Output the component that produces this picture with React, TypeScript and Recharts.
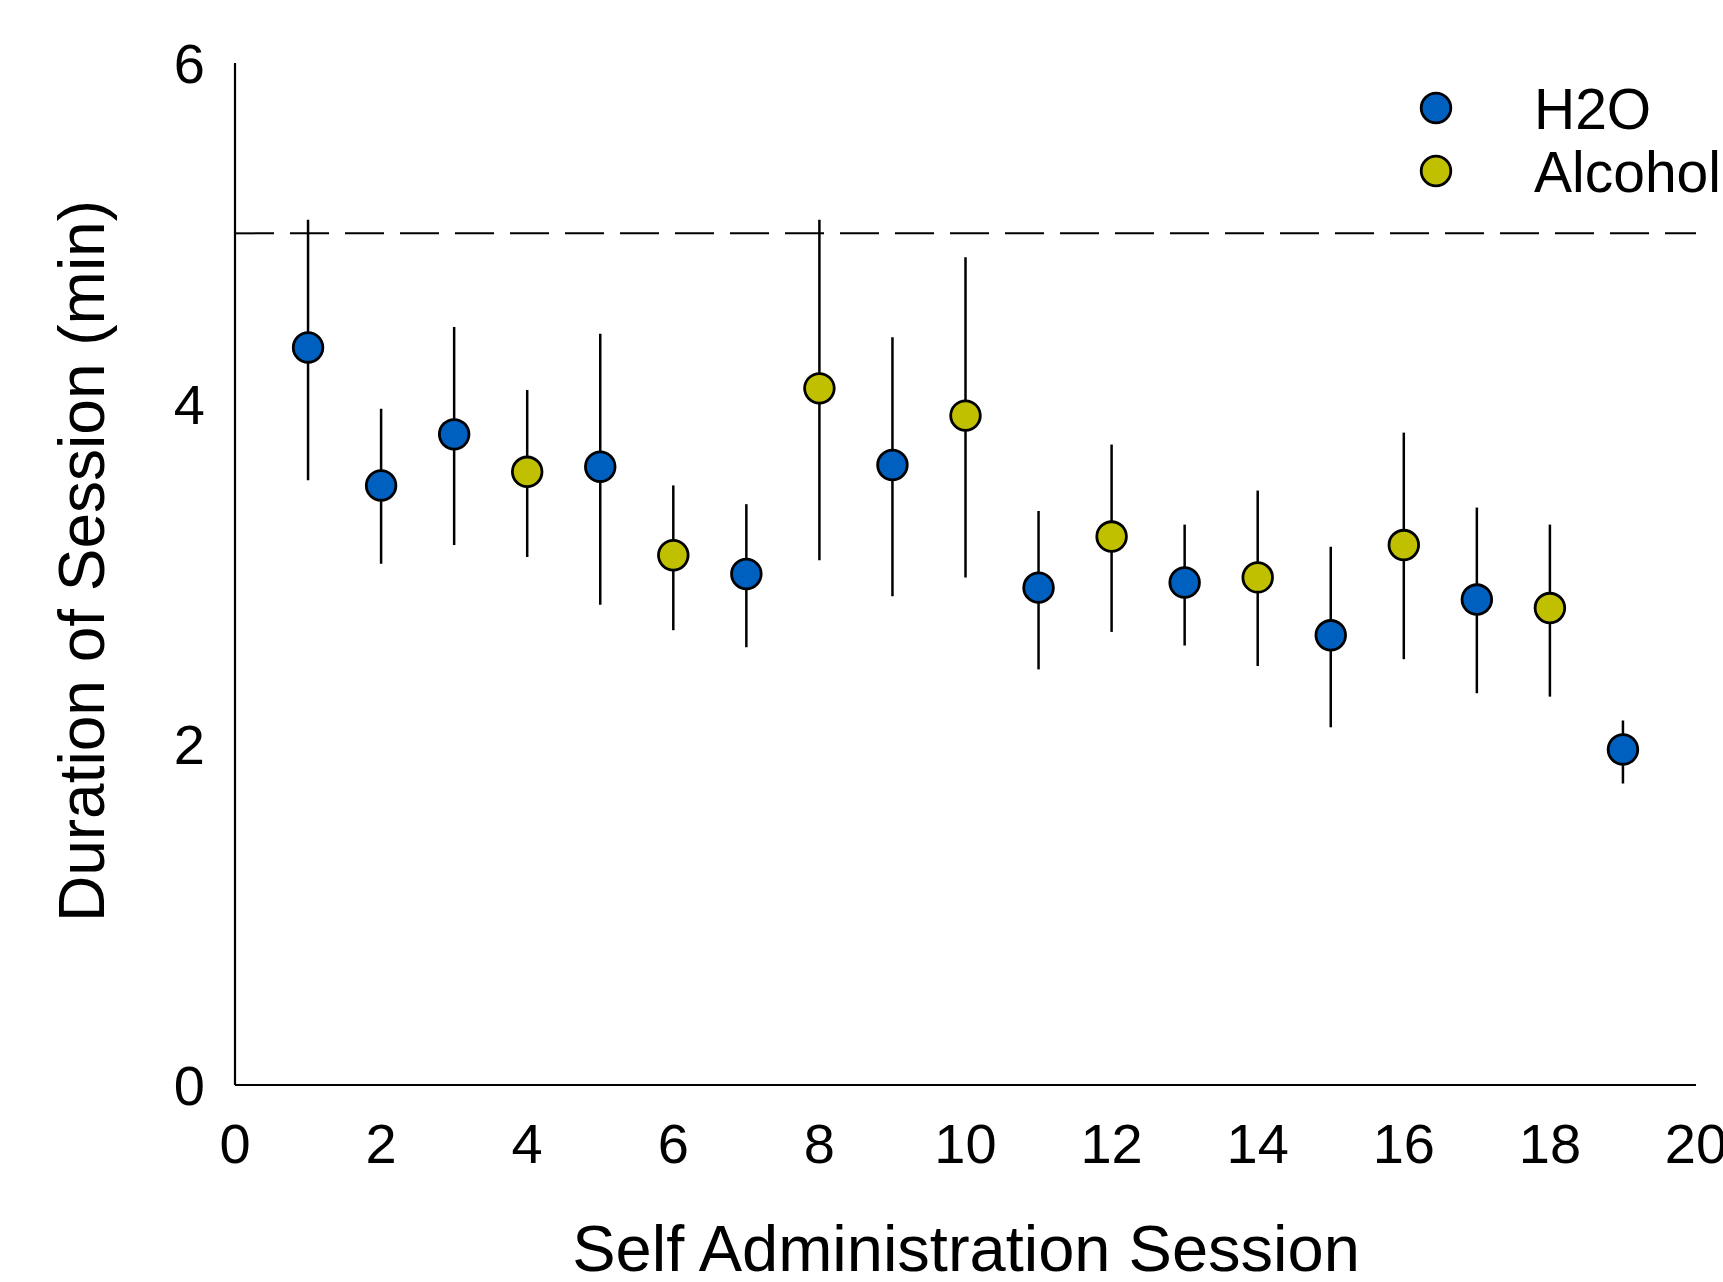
import { ScatterChart, Scatter, XAxis, YAxis, ErrorBar, ReferenceLine, Legend, Label } from "recharts";

const FONT = "'Liberation Sans', Arial, sans-serif";
const BLUE = "#0060C0";
const OLIVE = "#C0C000";

// 세션 번호와 평균, 오차 막대의 아래/위 끝값
const h2oSessions = [1, 2, 3, 5, 7, 9, 11, 13, 15, 17, 19];
const h2oMean = [4.33, 3.52, 3.82, 3.63, 3.0, 3.64, 2.92, 2.95, 2.64, 2.85, 1.97];
const h2oLow = [3.55, 3.06, 3.17, 2.82, 2.57, 2.87, 2.44, 2.58, 2.1, 2.3, 1.77];
const h2oHigh = [5.08, 3.97, 4.45, 4.41, 3.41, 4.39, 3.37, 3.29, 3.16, 3.39, 2.14];

const alcSessions = [4, 6, 8, 10, 12, 14, 16, 18];
const alcMean = [3.6, 3.11, 4.09, 3.93, 3.22, 2.98, 3.17, 2.8];
const alcLow = [3.1, 2.67, 3.08, 2.98, 2.66, 2.46, 2.5, 2.28];
const alcHigh = [4.08, 3.52, 5.08, 4.86, 3.76, 3.49, 3.83, 3.29];

const xTicks = [0, 2, 4, 6, 8, 10, 12, 14, 16, 18, 20];
const yTicks = [0, 2, 4, 6];
const cutoff = 5;

const build = (s: number[], m: number[], lo: number[], hi: number[]) =>
  s.map((x, i) => ({ session: x, mean: m[i], err: [m[i] - lo[i], hi[i] - m[i]] }));

const h2oData = build(h2oSessions, h2oMean, h2oLow, h2oHigh);
const alcData = build(alcSessions, alcMean, alcLow, alcHigh);

const dot = (fill: string) => (props: any) =>
  <circle cx={props.cx} cy={props.cy} r={14.8} fill={fill} stroke="#000" strokeWidth={2.8} />;

const tickStyle = { fontSize: 56, fill: "#000", fontFamily: FONT };

function renderLegend() {
  return (
    <svg width={323} height={140} style={{ overflow: "visible" }}>
      <circle cx={36} cy={28} r={14.8} fill={BLUE} stroke="#000" strokeWidth={2.8} />
      <text x={134} y={49} fontSize={57} fontFamily={FONT} fill="#000">H2O</text>
      <circle cx={36} cy={91} r={14.8} fill={OLIVE} stroke="#000" strokeWidth={2.8} />
      <text x={134} y={112} fontSize={57} fontFamily={FONT} fill="#000">Alcohol</text>
    </svg>
  );
}

export default function App() {
  return (
    <div style={{ position: "absolute", left: 0, top: 0, width: 1723, height: 1282, background: "#fff" }}>
      <ScatterChart width={1723} height={1282} margin={{ top: 63, right: 27, bottom: 97, left: 115 }}>
        <XAxis
          type="number"
          dataKey="session"
          domain={[0, 20]}
          ticks={xTicks}
          interval={0}
          tickLine={false}
          tickSize={0}
          tickMargin={38}
          height={100}
          tick={tickStyle}
          axisLine={{ stroke: "#000", strokeWidth: 2.2 }}
        >
          <Label
            content={() => (
              <text x={966} y={1271} textAnchor="middle" fontSize={65} fontFamily={FONT} fill="#000">
                Self Administration Session
              </text>
            )}
          />
        </XAxis>
        <YAxis
          type="number"
          dataKey="mean"
          domain={[0, 6]}
          ticks={yTicks}
          interval={0}
          tickLine={false}
          tickSize={0}
          tickMargin={30}
          width={120}
          tick={tickStyle}
          axisLine={{ stroke: "#000", strokeWidth: 2.2 }}
        >
          <Label
            content={() => (
              <text
                x={104}
                y={561}
                transform="rotate(-90 104 561)"
                textAnchor="middle"
                fontSize={64}
                fontFamily={FONT}
                fill="#000"
              >
                Duration of Session (min)
              </text>
            )}
          />
        </YAxis>
        <ReferenceLine y={cutoff} stroke="#000" strokeWidth={2} strokeDasharray="39 16" />
        <Legend
          layout="horizontal"
          verticalAlign="middle"
          align="center"
          content={renderLegend}
          wrapperStyle={{ left: 1400, top: 80, width: 323, height: 140 }}
        />
        <Scatter name="H2O" data={h2oData} shape={dot(BLUE)} isAnimationActive={false}>
          <ErrorBar dataKey="err" direction="y" width={0} stroke="#000" strokeWidth={2.5} isAnimationActive={false} />
        </Scatter>
        <Scatter name="Alcohol" data={alcData} shape={dot(OLIVE)} isAnimationActive={false}>
          <ErrorBar dataKey="err" direction="y" width={0} stroke="#000" strokeWidth={2.5} isAnimationActive={false} />
        </Scatter>
      </ScatterChart>
    </div>
  );
}
